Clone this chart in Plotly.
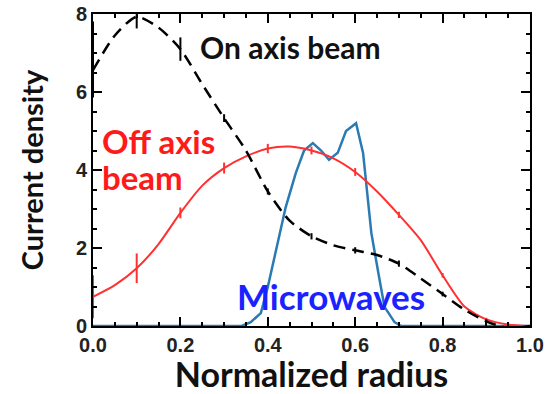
import plotly.graph_objects as go

# ---- data ----
r_grid = [0.0, 0.05, 0.1, 0.15, 0.2, 0.25, 0.3, 0.35, 0.4, 0.45, 0.5,
          0.55, 0.6, 0.65, 0.7, 0.75, 0.8, 0.85, 0.9, 0.95, 1.0]
on_axis = [6.56, 7.45, 7.93, 7.65, 7.1, 6.2, 5.33, 4.5, 3.45, 2.7, 2.3,
           2.07, 1.94, 1.82, 1.6, 1.22, 0.82, 0.42, 0.12, -0.05, 0.0]
on_err_plus = [1.25, 0, 0.3, 0, 0.3, 0, 0.1, 0, 0.08, 0, 0.08,
               0, 0.08, 0, 0.08, 0, 0.06, 0, 0.05, 0, 0]
on_err_minus = [0.7, 0, 0.3, 0, 0.3, 0, 0.1, 0, 0.08, 0, 0.08,
                0, 0.08, 0, 0.08, 0, 0.06, 0, 0.05, 0, 0]
off_axis = [0.75, 1.05, 1.48, 2.1, 2.9, 3.6, 4.05, 4.35, 4.55, 4.6, 4.5,
            4.3, 3.95, 3.45, 2.85, 2.2, 1.3, 0.5, 0.17, 0.04, 0.0]
off_err = [0.55, 0, 0.38, 0, 0.14, 0, 0.14, 0, 0.12, 0, 0.1,
           0, 0.1, 0, 0.08, 0, 0.06, 0, 0.04, 0, 0]
mw_r = [0.0, 0.34, 0.361, 0.384, 0.40, 0.423, 0.441, 0.464, 0.483, 0.503,
        0.522, 0.54, 0.56, 0.579, 0.602, 0.618, 0.625, 0.637, 0.653, 0.667,
        0.69, 0.705, 1.0]
microwaves = [0.0, 0.0, 0.1, 0.33, 1.0, 2.2, 3.05, 3.92, 4.5, 4.69,
              4.5, 4.26, 4.44, 5.0, 5.2, 4.44, 3.67, 2.38, 1.36, 0.49,
              0.1, 0.0, 0.0]
x_ticks = [0.0, 0.2, 0.4, 0.6, 0.8, 1.0]
x_tick_labels = ["0.0", "0.2", "0.4", "0.6", "0.8", "1.0"]
y_ticks = [0, 2, 4, 6, 8]
y_tick_labels = ["0", "2", "4", "6", "8"]

RED = "#ff3030"
BLUE = "#2a7ab4"
TXT_FONT = "Lato"

fig = go.Figure()
fig.add_trace(go.Scatter(
    x=mw_r, y=microwaves, mode="lines",
    line=dict(color=BLUE, width=2.5),
    showlegend=False, hoverinfo="skip"))
fig.add_trace(go.Scatter(
    x=r_grid, y=off_axis, mode="lines",
    line=dict(color=RED, width=2, shape="spline", smoothing=0.7),
    error_y=dict(type="data", array=off_err, color=RED, thickness=2, width=0),
    showlegend=False, hoverinfo="skip"))
fig.add_trace(go.Scatter(
    x=r_grid, y=on_axis, mode="lines",
    line=dict(color="black", width=2.5, dash="12px,7px", shape="spline", smoothing=0.7),
    error_y=dict(type="data", symmetric=False, array=on_err_plus,
                 arrayminus=on_err_minus, color="black", thickness=2, width=0),
    showlegend=False, hoverinfo="skip"))
# invisible trace that carries the minor-tick overlay axes
fig.add_trace(go.Scatter(
    x=[x_ticks[0]], y=[y_ticks[0]], xaxis="x2", yaxis="y2", mode="markers",
    marker=dict(opacity=0), showlegend=False, hoverinfo="skip"))

tickfont = dict(family="Liberation Sans", size=20, color="#222", weight="bold")
axcommon = dict(showline=True, linecolor="black", linewidth=2, mirror="ticks",
                ticks="inside", tickcolor="black",
                showgrid=False, zeroline=False, automargin=False)

fig.update_layout(
    xaxis=dict(range=[x_ticks[0], x_ticks[-1]], tickvals=x_ticks, ticktext=x_tick_labels,
               ticklen=9, tickwidth=2, tickfont=tickfont,
               title=dict(text="<b>Normalized radius</b>", standoff=13,
                          font=dict(family=TXT_FONT, size=34, color="#111")),
               **axcommon),
    yaxis=dict(range=[y_ticks[0], y_ticks[-1]], tickvals=y_ticks, ticktext=y_tick_labels,
               ticklen=9, tickwidth=2, tickfont=tickfont,
               title=dict(text="<b>Current density</b>", standoff=24,
                          font=dict(family=TXT_FONT, size=29, color="#111")),
               **axcommon),
    # overlay axes for minor ticks (mirrored on all four sides)
    xaxis2=dict(range=[x_ticks[0], x_ticks[-1]], overlaying="x", anchor="y2",
                side="bottom", tickmode="linear", tick0=0, dtick=0.05,
                ticklen=4, tickwidth=1.5, showticklabels=False, **axcommon),
    yaxis2=dict(range=[y_ticks[0], y_ticks[-1]], overlaying="y", anchor="x2",
                side="left", tickmode="linear", tick0=0, dtick=0.5,
                ticklen=4, tickwidth=1.5, showticklabels=False, **axcommon),
)

fig.add_annotation(x=0.452, y=7.15, text="<b>On axis beam</b>", showarrow=False,
                   font=dict(family=TXT_FONT, size=30, color="#111"))
fig.add_annotation(x=0.016, y=4.74, text="<b>Off axis</b>", showarrow=False,
                   xanchor="left", font=dict(family=TXT_FONT, size=33, color="#ff1a1a"))
fig.add_annotation(x=0.016, y=3.82, text="<b>beam</b>", showarrow=False,
                   xanchor="left", font=dict(family=TXT_FONT, size=33, color="#ff1a1a"))
fig.add_annotation(x=0.545, y=0.77, text="<b>Microwaves</b>", showarrow=False,
                   font=dict(family=TXT_FONT, size=35, color="#1a22ff"))

fig.update_layout(width=550, height=394, margin=dict(l=93, r=20, t=14, b=68),
                  paper_bgcolor="white", plot_bgcolor="white", hovermode=False)
fig.write_html("out.html", config={"displayModeBar": False},
               post_script="document.body.style.margin='0';"
                           "document.body.style.overflow='hidden';")
